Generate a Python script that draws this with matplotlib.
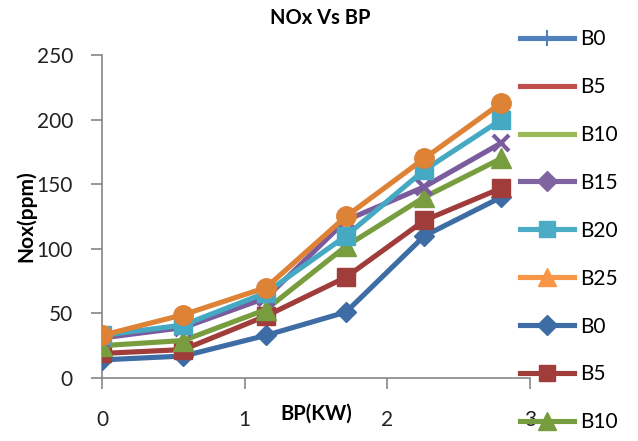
import matplotlib
matplotlib.use("Agg")
from matplotlib import pyplot as plt
from matplotlib.lines import Line2D

plt.rcParams['font.family'] = ['Lato', 'DejaVu Sans']

# BP (KW) and NOx (ppm)
bp = [0, 0.57, 1.15, 1.71, 2.26, 2.80]
nox_b0 = [14, 17, 33, 51, 110, 140]
nox_b5 = [19, 22, 48, 78, 122, 147]
nox_b10 = [25, 29, 53, 102, 140, 170]
nox_b15 = [31, 39, 62, 122, 148, 182]
nox_b20 = [33, 41, 66, 110, 161, 200]
nox_b25 = [33, 49, 70, 125, 170, 213]

legend_labels = ["B0", "B5", "B10", "B15", "B20", "B25", "B0", "B5", "B10"]

fig = plt.figure(figsize=(6.38, 4.41), dpi=100)
ax = fig.add_axes([0.16, 0.1429, 0.6707, 0.7324])

lw = 3.7
ax.plot(bp, nox_b0, color="#3E6DA6", lw=lw, marker="D", ms=10, zorder=3)
ax.plot(bp, nox_b5, color="#A03C3A", lw=lw, marker="s", ms=13, zorder=3)
ax.plot(bp, nox_b10, color="#789D3E", lw=lw, marker="^", ms=14, zorder=3)
ax.plot(bp, nox_b15, color="#7A5C9E", lw=lw, marker="x", ms=12, mew=3, zorder=3)
ax.plot(bp, nox_b20, color="#46A9C4", lw=lw, marker="s", ms=13, zorder=3)
ax.plot(bp, nox_b25, color="#DE8236", lw=lw, marker="o", ms=14, zorder=3)

ax.set_xlim(0, 3)
ax.set_ylim(0, 250)
ax.set_xticks([0, 1, 2, 3])
ax.set_yticks([0, 50, 100, 150, 200, 250])
for s in ["top", "right"]:
    ax.spines[s].set_visible(False)
for s in ["left", "bottom"]:
    ax.spines[s].set_color("#868686")
    ax.spines[s].set_linewidth(1.2)
ax.tick_params(axis="both", colors="#868686", length=8, width=1.2, labelsize=15, labelcolor="#222222")
ax.tick_params(axis="x", pad=15)
ax.tick_params(axis="y", pad=13)

ax.set_xlabel("BP(KW)", fontsize=14.5, fontweight="bold")
ax.xaxis.set_label_coords(0.5, -0.11)
ax.xaxis.label.set_va("center")
ax.set_ylabel("Nox(ppm)", fontsize=15, fontweight="bold")
ax.yaxis.set_label_coords(-0.178, 0.5)
ax.yaxis.label.set_va("center")

fig.text(320 / 638, 1 - 18 / 441, "NOx Vs BP", ha="center", va="center",
         fontsize=14.5, fontweight="bold")

handles = [
    Line2D([], [], color="#4F81BD", lw=lw, marker="|", ms=12, mew=1.5),
    Line2D([], [], color="#C0504D", lw=lw),
    Line2D([], [], color="#9BBB59", lw=lw),
    Line2D([], [], color="#8064A2", lw=lw, marker="D", ms=10),
    Line2D([], [], color="#4BACC6", lw=lw, marker="s", ms=12),
    Line2D([], [], color="#F79646", lw=lw, marker="^", ms=13),
    Line2D([], [], color="#3E6DA6", lw=lw, marker="D", ms=10),
    Line2D([], [], color="#A03C3A", lw=lw, marker="s", ms=12),
    Line2D([], [], color="#789D3E", lw=lw, marker="^", ms=13),
]
fig.legend(handles, legend_labels, loc="upper left", bbox_to_anchor=(520 / 638, 1 - 29 / 441),
           frameon=False, fontsize=15, handlelength=2.6, handletextpad=0.3,
           labelspacing=1.34, borderpad=0, borderaxespad=0)

fig.savefig("out.png", dpi=100)
